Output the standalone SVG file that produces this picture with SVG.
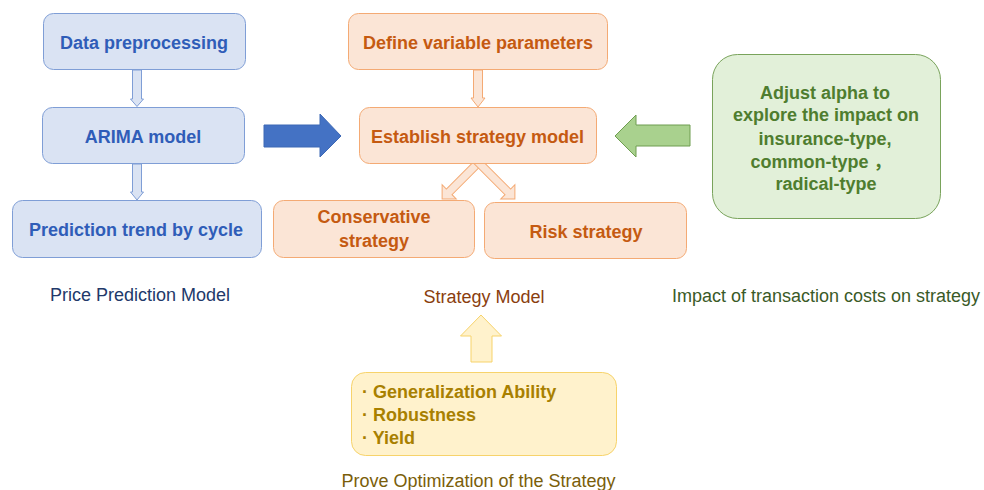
<svg xmlns="http://www.w3.org/2000/svg" width="984" height="490" viewBox="0 0 984 490">
<style>
text{font-family:"Liberation Sans","Noto Sans CJK SC",Arial,sans-serif;}
.b{font-weight:bold;font-size:18px;text-anchor:middle;}
.lbl{font-size:18px;text-anchor:middle;}
.bbox{fill:#DAE3F3;stroke:#7F9ED6;stroke-width:1;}
.obox{fill:#FBE5D6;stroke:#F4AA74;stroke-width:1;}
.gbox{fill:#E2F0D9;stroke:#79A35B;stroke-width:1;}
.ybox{fill:#FFF2CC;stroke:#F7D36B;stroke-width:1;}
.bt{fill:#2F5DB8;}
.ot{fill:#C55A11;}
.gt{fill:#4F7D2F;}
.yt{fill:#A88000;}
.barr{fill:#DAE3F3;stroke:#7F9ED6;stroke-width:1;}
.oarr{fill:#FBE5D6;stroke:#F4AA74;stroke-width:1;}
</style>
<rect width="984" height="490" fill="#FFFFFF"/>

<g id="connectors">
  <path class="barr" d="M132.5,70 H141.5 V99 H143.5 L137,106.5 L130.5,99 H132.5 Z"/>
  <path class="barr" d="M132.5,164 H141.5 V192 H143.5 L137,200 L130.5,192 H132.5 Z"/>
  <path class="oarr" d="M473.5,70 H482.5 V98 H485 L478,107 L471,98 H473.5 Z"/>
  <path class="oarr" transform="translate(481,160) rotate(45)" d="M-4,0 H4 V45 H10 L0,55 L-10,45 H-4 Z"/>
  <path class="oarr" transform="translate(476,160) rotate(-45)" d="M-4,0 H4 V45 H10 L0,55 L-10,45 H-4 Z"/>
  <path d="M264,125 H320 V114 L341,136 L320,157 V147 H264 Z" fill="#4472C4" stroke="#3D68B5" stroke-width="1"/>
  <path d="M690,125 H636 V115 L615,136 L636,157 V146 H690 Z" fill="#A9D18E" stroke="#6E9D50" stroke-width="1"/>
  <path d="M471,362 V336 H460.5 L481,315 L501.5,336 H492 V362 Z" fill="#FFF2CC" stroke="#F7D36B" stroke-width="1"/>
</g>

<g id="data-preprocessing">
  <rect class="bbox" x="43.5" y="13.5" width="202" height="56" rx="10"/>
  <text class="b bt" x="144" y="48.5">Data preprocessing</text>
</g>
<g id="arima-model">
  <rect class="bbox" x="42.5" y="107.5" width="202" height="56" rx="10"/>
  <text class="b bt" x="143" y="142.5">ARIMA model</text>
</g>
<g id="prediction-trend">
  <rect class="bbox" x="12.5" y="200.5" width="249" height="57" rx="10"/>
  <text class="b bt" x="136" y="235.5">Prediction trend by cycle</text>
</g>
<g id="price-prediction-label">
  <text class="lbl" x="140" y="300.5" fill="#22396A">Price Prediction Model</text>
</g>

<g id="define-variable-parameters">
  <rect class="obox" x="348.5" y="13.5" width="259" height="56" rx="10"/>
  <text class="b ot" x="478" y="48.5">Define variable parameters</text>
</g>
<g id="establish-strategy-model">
  <rect class="obox" x="359.5" y="107.5" width="237" height="56" rx="10"/>
  <text class="b ot" x="477.5" y="142.5">Establish strategy model</text>
</g>
<g id="conservative-strategy">
  <rect class="obox" x="273.5" y="200.5" width="201" height="57" rx="10"/>
  <text class="b ot" x="374" y="223">Conservative</text>
  <text class="b ot" x="374" y="247">strategy</text>
</g>
<g id="risk-strategy">
  <rect class="obox" x="484.5" y="202.5" width="202" height="56" rx="10"/>
  <text class="b ot" x="586" y="237.5">Risk strategy</text>
</g>
<g id="strategy-model-label">
  <text class="lbl" x="484" y="302.5" fill="#8A3E0E">Strategy Model</text>
</g>

<g id="adjust-alpha">
  <rect class="gbox" x="712.5" y="54.5" width="228" height="164" rx="25"/>
  <text class="b gt" x="825" y="98.5">Adjust alpha to</text>
  <text class="b gt" x="826" y="121">explore the impact on</text>
  <text class="b gt" x="825" y="144.5">insurance-type,</text>
  <text class="b gt" x="821" y="168">common-type ，</text>
  <text class="b gt" x="826" y="189.5">radical-type</text>
</g>
<g id="transaction-costs-label">
  <text class="lbl" x="826" y="301.5" fill="#3A5A27">Impact of transaction costs on strategy</text>
</g>

<g id="prove-optimization">
  <rect class="ybox" x="351.5" y="372.5" width="265" height="83" rx="14"/>
  <text class="b yt" x="362" y="397.5" style="text-anchor:start">· Generalization Ability</text>
  <text class="b yt" x="362" y="420.5" style="text-anchor:start">· Robustness</text>
  <text class="b yt" x="362" y="443.5" style="text-anchor:start">· Yield</text>
</g>
<g id="prove-optimization-label">
  <text class="lbl" x="478.5" y="486.5" fill="#7A5E0A">Prove Optimization of the Strategy</text>
</g>
</svg>
